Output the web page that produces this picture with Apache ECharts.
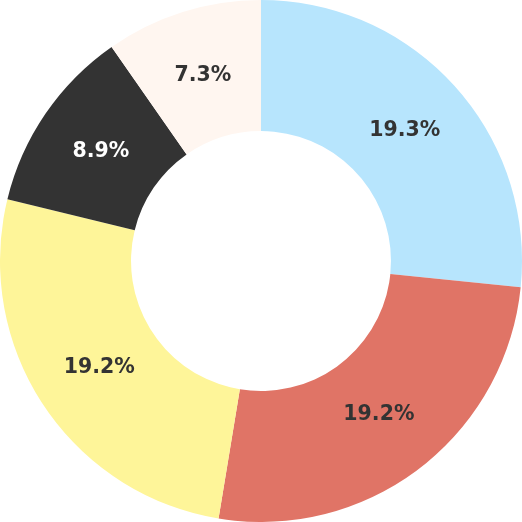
<!DOCTYPE html>
<html><head><meta charset="utf-8">
<script src="https://cdn.jsdelivr.net/npm/echarts@6/dist/echarts.min.js"></script>
<style>html,body{margin:0;padding:0;background:#fff}#c{width:522px;height:522px}</style>
</head><body><div id="c"></div>
<script>
const categories = ['A', 'B', 'C', 'D', 'E'];
// slice sizes as measured from the slice angles (share of the ring, %)
const values = [26.6, 26.0, 26.2, 11.5, 9.7];
// label texts as printed on the slices
const labels = ['19.3%', '19.2%', '19.2%', '8.9%', '7.3%'];
const colors = ['#b7e5fd', '#e07466', '#fef599', '#333333', '#fff6f0'];
const labelColors = ['#333333', '#333333', '#333333', '#ffffff', '#333333'];

const chart = echarts.init(document.getElementById('c'));
const labelStyle = {
  fontFamily: 'DejaVu Sans',
  fontWeight: 'bold',
  fontSize: 20.5
};
chart.setOption({
  animation: false,
  series: [{
    type: 'pie',
    center: ['50%', '50%'],
    radius: ['49.8%', '100%'],
    startAngle: 90,
    clockwise: true,
    label: { show: false },
    labelLine: { show: false },
    itemStyle: { borderWidth: 0 },
    data: categories.map((c, i) => ({
      name: c,
      value: values[i],
      itemStyle: { color: colors[i] }
    }))
  }, {
    // transparent ring used only to place the labels a little inward
    type: 'pie',
    silent: true,
    center: ['50%', '50%'],
    radius: ['49.8%', '96.5%'],
    startAngle: 90,
    clockwise: true,
    avoidLabelOverlap: false,
    label: Object.assign({
      show: true,
      position: 'inside',
      formatter: p => labels[p.dataIndex]
    }, labelStyle),
    labelLine: { show: false },
    itemStyle: { color: 'rgba(0,0,0,0)', borderWidth: 0 },
    data: categories.map((c, i) => ({
      name: c,
      value: values[i],
      label: { color: labelColors[i] }
    }))
  }]
});
</script></body></html>
